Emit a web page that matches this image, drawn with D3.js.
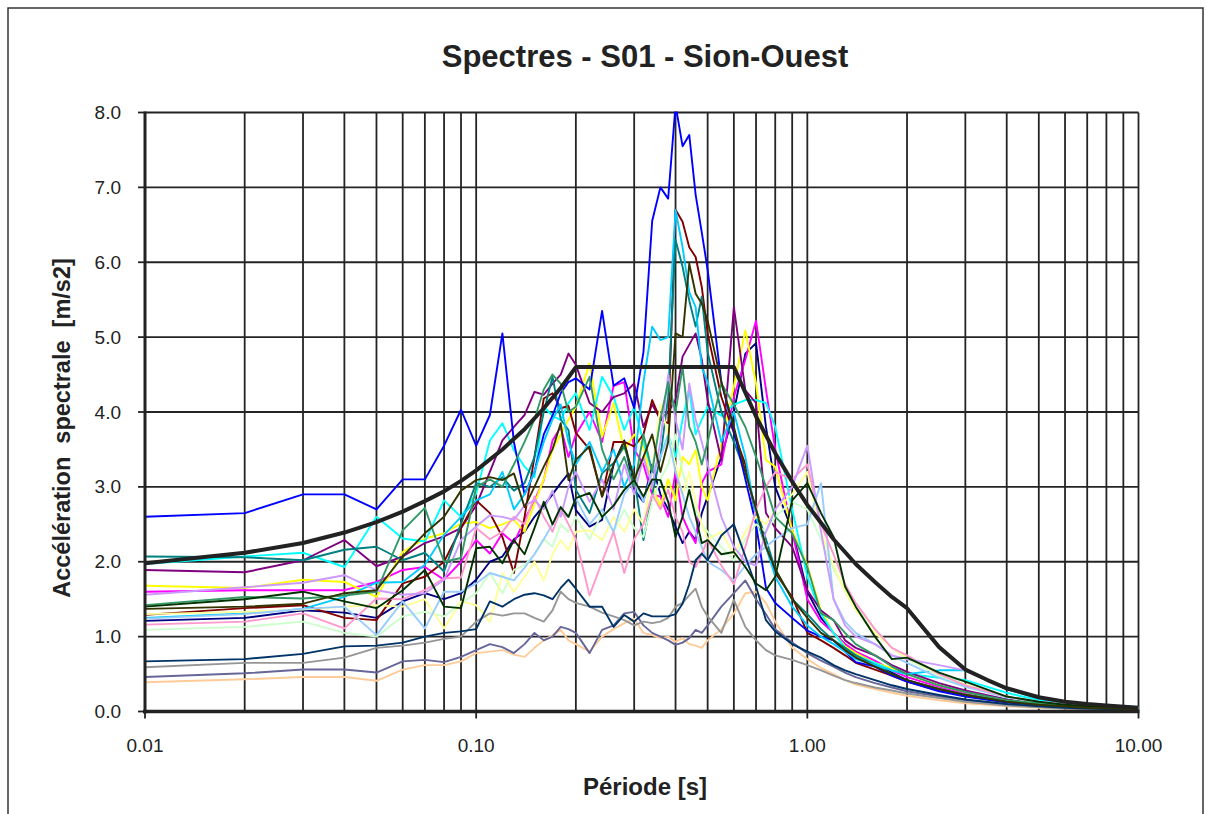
<!DOCTYPE html>
<html><head><meta charset="utf-8">
<script src="https://cdn.jsdelivr.net/npm/d3@7"></script>
<style>html,body{margin:0;padding:0;background:#fff;}svg{display:block;font-family:"Liberation Sans",Arial,sans-serif;}</style>
</head><body>
<svg id="chart" width="1206" height="814"></svg>
<script>
// ---- DATA ----
const title = "Spectres - S01 - Sion-Ouest";
const xTitle = "Période [s]";
const yTitle = "Accélération  spectrale  [m/s2]";
const xTickValues = [0.01, 0.1, 1, 10];
const xTickLabels = ["0.01", "0.10", "1.00", "10.00"];
const yTickValues = [0, 1, 2, 3, 4, 5, 6, 7, 8];
const yTickLabels = ["0.0", "1.0", "2.0", "3.0", "4.0", "5.0", "6.0", "7.0", "8.0"];

const periods = [0.01,0.02,0.03,0.04,0.05,0.06,0.07,0.08,0.09,0.10,
  0.11,0.12,0.13,0.14,0.15,0.16,0.17,0.18,0.19,0.20,
  0.22,0.24,0.26,0.28,0.30,0.32,0.34,0.36,0.38,0.40,
  0.42,0.44,0.46,0.48,0.50,0.55,0.60,0.65,0.70,0.75,
  0.80,0.90,1.00,1.10,1.20,1.30,1.40,1.60,1.80,2.00,
  2.50,3.00,4.00,5.00,6.00,7.00,8.50,10.0];

const sNavy = [1.21,1.25,1.35,1.32,1.25,1.47,1.58,1.50,1.58,1.76,
  2.00,2.07,2.30,2.40,2.60,2.75,2.90,3.05,3.18,2.69,
  2.47,2.56,3.30,3.62,2.96,2.80,3.30,2.90,2.70,2.47,
  2.25,2.40,2.29,2.65,2.87,3.40,4.00,4.78,4.92,3.80,
  3.00,2.42,1.60,1.25,1.05,0.90,0.78,0.65,0.52,0.42,
  0.29,0.21,0.13,0.09,0.07,0.05,0.04,0.03];
const sMagenta = [1.60,1.62,1.62,1.62,1.73,1.89,1.93,1.76,2.00,2.29,
  2.11,2.38,2.25,2.56,2.82,3.09,3.62,3.80,3.40,3.70,
  4.00,3.60,4.35,4.40,3.50,3.30,2.90,2.87,2.60,3.20,
  2.60,2.40,2.25,3.05,3.20,3.30,4.20,4.70,5.22,4.30,
  3.50,2.40,1.50,1.20,1.05,0.90,0.80,0.68,0.55,0.46,
  0.33,0.24,0.14,0.10,0.07,0.06,0.05,0.04];
const sYellow = [1.68,1.65,1.76,1.73,1.53,2.13,2.31,2.38,2.51,2.53,
  2.45,2.50,2.56,2.40,2.78,3.10,3.50,3.70,3.90,4.07,
  4.65,3.67,4.12,3.49,3.70,3.54,3.00,2.74,3.10,2.82,
  3.40,3.30,3.49,3.00,2.82,3.58,4.34,5.09,4.38,3.36,
  3.27,2.42,1.95,1.35,1.05,0.87,0.78,0.65,0.58,0.50,
  0.35,0.26,0.15,0.11,0.08,0.06,0.05,0.04];
const sAqua = [1.97,2.07,2.12,1.93,2.60,2.31,2.27,2.82,2.60,2.91,
  3.62,3.85,3.49,3.27,3.13,4.07,3.95,3.89,4.12,4.25,
  3.76,4.47,4.20,3.76,4.07,3.60,3.20,3.40,3.70,3.40,
  3.90,4.30,3.70,3.90,4.07,3.95,4.10,4.16,4.16,4.12,
  3.80,2.70,1.80,1.30,1.05,0.85,0.75,0.65,0.55,0.50,
  0.45,0.42,0.25,0.15,0.11,0.09,0.07,0.06];
const sPurple = [1.89,1.86,2.02,2.29,1.94,2.07,2.25,2.34,2.45,2.75,
  3.20,3.62,3.80,3.96,4.27,4.23,4.38,4.50,4.78,4.63,
  4.12,4.00,4.20,4.25,4.38,3.80,4.10,3.90,4.00,4.16,
  4.74,4.90,5.05,4.70,4.16,3.36,5.40,4.29,4.12,2.65,
  2.45,2.20,1.62,1.35,1.22,0.95,0.85,0.75,0.62,0.53,
  0.38,0.28,0.16,0.11,0.08,0.06,0.05,0.04];
const sMaroon = [1.29,1.38,1.42,1.25,1.22,1.71,1.80,2.00,2.45,2.82,
  2.65,2.33,1.85,2.60,3.40,4.18,4.25,4.05,4.08,3.72,
  3.50,2.87,3.60,3.60,3.54,3.70,4.16,3.90,3.85,6.70,
  6.54,6.20,6.07,5.67,5.05,4.20,3.72,3.30,2.60,2.20,
  1.85,1.53,1.05,0.95,0.85,0.75,0.65,0.56,0.48,0.40,
  0.28,0.22,0.13,0.09,0.07,0.05,0.04,0.03];
const sTeal = [2.07,2.06,2.02,2.16,2.20,2.02,2.12,1.87,2.51,3.05,
  3.00,3.13,2.95,3.05,3.40,4.00,4.47,3.90,3.76,2.96,
  2.65,3.18,3.32,3.54,3.13,2.29,2.90,3.40,4.20,6.30,
  5.94,5.49,5.14,5.54,4.80,4.00,3.60,3.20,2.70,2.30,
  1.90,1.50,1.30,1.10,0.95,0.85,0.75,0.62,0.50,0.42,
  0.30,0.22,0.14,0.10,0.08,0.06,0.05,0.04];
const sBlue = [2.60,2.65,2.90,2.90,2.70,3.10,3.10,3.55,4.03,3.55,
  3.96,5.05,3.60,2.90,3.20,3.70,3.95,4.25,4.40,4.45,
  4.30,5.35,4.35,4.45,4.05,4.80,6.55,7.00,6.85,8.10,
  7.55,7.70,6.90,6.40,5.90,4.40,3.75,3.10,2.50,1.65,
  1.45,1.25,1.08,1.00,0.95,0.80,0.66,0.60,0.48,0.40,
  0.27,0.20,0.12,0.09,0.07,0.06,0.05,0.04];
const sSkyBlue = [1.25,1.31,1.37,1.53,1.72,1.73,1.96,2.36,2.60,2.82,
  2.90,3.20,2.70,2.90,3.20,3.60,3.90,4.10,3.60,3.30,
  3.60,3.20,3.50,3.00,3.30,4.40,5.14,4.96,5.00,6.70,
  6.20,5.60,5.40,4.60,4.40,3.60,4.00,3.40,2.60,2.20,
  1.80,1.40,1.15,1.00,0.90,0.80,0.70,0.62,0.55,0.50,
  0.55,0.55,0.30,0.17,0.12,0.09,0.07,0.05];
const sLightGreen = [1.09,1.13,1.20,1.05,1.00,1.27,1.33,1.27,1.45,1.58,
  1.85,1.58,1.89,1.95,2.10,2.30,2.20,2.50,2.40,2.60,
  2.30,2.65,2.40,2.70,2.45,2.33,2.80,3.10,3.30,3.70,
  3.20,2.90,2.70,2.50,2.40,2.20,2.02,2.30,2.50,2.40,
  2.60,2.80,2.70,2.30,1.90,1.62,1.40,1.10,0.85,0.70,
  0.48,0.34,0.19,0.12,0.09,0.07,0.05,0.04];
const sLightYellow = [1.30,1.33,1.36,1.40,1.42,1.40,1.50,1.11,1.47,1.42,
  1.20,1.85,1.60,1.80,2.00,1.75,2.10,2.29,2.15,2.40,
  2.42,2.29,2.60,2.40,2.70,2.50,3.20,4.10,3.70,3.30,
  2.90,3.20,2.80,2.50,2.30,2.40,2.10,2.40,2.60,2.50,
  2.70,2.90,3.20,2.40,1.95,1.60,1.35,1.05,0.85,0.72,
  0.50,0.36,0.20,0.13,0.09,0.07,0.05,0.04];
const sPaleBlue = [1.24,1.30,1.37,1.40,1.02,1.47,1.11,1.60,1.60,1.71,
  1.85,1.80,1.75,1.92,2.10,2.30,2.50,2.65,2.60,2.85,
  2.50,2.70,2.40,2.90,3.10,2.80,3.20,3.40,3.67,3.20,
  2.90,2.60,2.40,2.20,2.00,1.89,1.75,1.95,2.10,2.20,
  2.30,2.45,2.50,3.05,1.50,1.20,1.05,0.90,0.75,0.65,
  0.45,0.33,0.19,0.13,0.09,0.07,0.05,0.04];
const sRose = [1.16,1.20,1.31,1.11,1.51,1.50,1.62,1.78,1.79,2.45,
  2.30,2.40,2.60,2.50,2.87,2.60,2.40,2.70,2.50,2.30,
  1.55,2.00,2.40,1.85,2.30,2.50,2.90,2.70,2.96,2.60,
  2.40,2.00,1.93,2.10,2.30,1.95,1.70,2.20,2.70,3.00,
  3.20,3.10,3.30,2.50,2.10,1.70,1.45,1.10,0.85,0.75,
  0.50,0.35,0.20,0.13,0.09,0.07,0.05,0.04];
const sLavender = [1.56,1.66,1.72,1.82,1.62,1.56,1.58,1.76,2.29,2.47,
  2.62,2.60,2.56,2.75,2.82,2.70,2.95,2.60,3.00,3.20,
  2.80,3.10,2.70,3.30,2.90,3.40,3.00,3.60,4.50,3.90,
  3.50,4.38,3.90,3.60,3.30,2.60,2.20,2.00,1.95,2.40,
  2.70,3.00,3.55,2.40,1.50,1.15,1.00,0.90,0.75,0.70,
  0.62,0.55,0.30,0.18,0.12,0.09,0.07,0.05];
const sTan = [0.39,0.43,0.46,0.46,0.41,0.56,0.62,0.62,0.67,0.78,
  0.80,0.82,0.76,0.73,0.85,0.95,1.02,1.09,0.95,0.90,
  0.80,1.00,1.10,1.18,1.24,1.05,1.02,0.98,1.00,0.93,
  0.98,0.90,0.88,0.85,0.95,1.10,1.31,1.58,1.60,1.45,
  1.20,0.85,0.70,0.58,0.50,0.42,0.36,0.30,0.25,0.21,
  0.15,0.11,0.07,0.05,0.04,0.03,0.02,0.02];
const sBlueGray = [0.46,0.51,0.56,0.56,0.52,0.67,0.69,0.66,0.73,0.82,
  0.90,0.86,0.78,0.90,1.05,0.95,1.00,1.13,1.10,1.05,
  0.78,1.09,1.15,1.31,1.33,1.15,1.05,1.00,0.95,0.89,
  0.92,0.98,1.09,1.05,1.15,1.40,1.58,1.75,1.50,1.30,
  1.10,0.92,0.78,0.68,0.60,0.52,0.46,0.38,0.32,0.27,
  0.20,0.15,0.09,0.06,0.05,0.04,0.03,0.02];
const sGray = [0.59,0.65,0.65,0.72,0.85,0.88,0.92,0.97,1.00,1.20,
  1.31,1.28,1.31,1.31,1.25,1.20,1.35,1.60,1.50,1.45,
  1.40,1.32,1.27,1.22,1.15,1.20,1.18,1.20,1.25,1.40,
  1.45,1.55,1.64,1.40,1.27,1.05,1.49,1.13,0.95,0.82,
  0.75,0.69,0.62,0.55,0.48,0.42,0.38,0.32,0.28,0.24,
  0.18,0.13,0.08,0.06,0.04,0.03,0.03,0.02];
const sDarkTeal = [0.67,0.70,0.77,0.87,0.88,0.92,1.00,1.05,1.07,1.10,
  1.47,1.40,1.50,1.56,1.58,1.55,1.50,1.65,1.76,1.64,
  1.40,1.40,1.13,1.29,1.20,1.31,1.27,1.27,1.27,1.30,
  1.44,1.70,2.02,2.11,2.02,2.35,2.50,2.07,1.67,1.22,
  1.07,0.90,0.80,0.72,0.62,0.55,0.50,0.42,0.35,0.30,
  0.22,0.16,0.10,0.07,0.05,0.04,0.03,0.02];
const sSeaGreen = [1.42,1.53,1.51,1.55,1.60,2.42,2.72,2.00,2.05,3.00,
  3.10,3.00,3.30,3.60,3.90,4.30,4.50,4.38,4.00,4.07,
  4.47,3.50,3.10,3.40,3.00,3.70,3.20,3.90,4.40,4.00,
  4.60,3.80,3.60,3.30,3.60,4.38,4.10,3.80,3.40,3.00,
  2.60,2.38,1.93,1.31,1.22,1.05,0.90,0.75,0.60,0.50,
  0.35,0.26,0.15,0.11,0.08,0.06,0.05,0.04];
const sDarkGreen = [1.40,1.50,1.60,1.47,1.38,1.62,1.89,1.40,1.38,2.18,
  2.20,1.98,2.29,2.10,2.45,2.80,2.50,2.73,2.60,2.85,
  2.92,2.60,2.75,2.96,3.09,2.87,3.10,3.09,2.80,2.33,
  2.60,2.96,2.60,2.25,2.29,2.10,2.13,1.93,1.71,1.62,
  1.80,2.82,3.05,2.65,2.33,1.67,1.40,1.00,0.70,0.72,
  0.52,0.40,0.20,0.13,0.09,0.07,0.05,0.04];
const sOlive = [1.37,1.40,1.44,1.58,1.62,2.07,2.38,2.60,2.95,3.09,
  3.13,3.09,3.18,2.73,3.00,3.27,3.50,3.85,3.09,3.36,
  3.54,2.87,3.30,3.60,3.10,3.40,3.70,3.20,3.60,5.05,
  5.00,5.98,5.58,5.45,5.22,4.40,3.80,3.20,2.70,2.20,
  1.90,1.50,1.25,1.05,0.95,0.82,0.72,0.60,0.50,0.42,
  0.30,0.22,0.13,0.09,0.07,0.05,0.04,0.03];

const designPeriods = [0.01,0.02,0.03,0.04,0.05,0.06,0.07,0.08,0.09,0.10,0.12,0.14,0.16,0.18,0.20,
  0.60,0.70,0.80,0.90,1.00,1.20,1.40,1.60,1.80,2.00,2.50,3.00,3.50,4.00,5.00,6.00,7.00,8.00,10.0];
const designValues = [1.98,2.12,2.25,2.39,2.53,2.67,2.81,2.94,3.08,3.22,3.50,3.77,4.05,4.32,4.60,
  4.60,3.94,3.45,3.07,2.76,2.30,1.97,1.73,1.53,1.38,0.86,0.56,0.42,0.31,0.19,0.13,0.10,0.08,0.05];

const seriesList = [sNavy, sMagenta, sYellow, sAqua, sPurple, sMaroon, sTeal, sBlue, sSkyBlue,
  sLightGreen, sLightYellow, sPaleBlue, sRose, sLavender, sTan, sBlueGray, sGray, sDarkTeal,
  sSeaGreen, sDarkGreen, sOlive];
const seriesColors = ["#000080","#FF00FF","#FFFF00","#00FFFF","#800080","#800000","#008080","#0000FF","#00CCFF",
  "#CCFFCC","#FFFF99","#99CCFF","#FF99CC","#CC99FF","#FFCC99","#666699","#969696","#003366",
  "#339966","#003300","#333300"];

// ---- CHART ----
const svg = d3.select("#chart");
const L = 145, R = 1138.5, T = 112.5, B = 711.5;
const x = d3.scaleLog().domain([0.01, 10]).range([L, R]);
const y = d3.scaleLinear().domain([0, 8]).range([B, T]);

// outer frame
svg.append("rect").attr("x", 8).attr("y", 8).attr("width", 1195).attr("height", 820)
  .attr("fill", "none").attr("stroke", "#333").attr("stroke-width", 1.5);

// grid
const gridColor = "#242424";
const xGrid = [];
for (let e = -2; e <= 0; e++) for (let k = 1; k <= 9; k++) xGrid.push(k * Math.pow(10, e));
xGrid.push(10);
svg.append("g").selectAll("line").data(xGrid).join("line")
  .attr("x1", d => x(d)).attr("x2", d => x(d)).attr("y1", T).attr("y2", B)
  .attr("stroke", gridColor).attr("stroke-width", 1.8);
svg.append("g").selectAll("line").data(yTickValues).join("line")
  .attr("x1", L).attr("x2", R).attr("y1", d => y(d)).attr("y2", d => y(d))
  .attr("stroke", gridColor).attr("stroke-width", 1.8);

// clip
svg.append("clipPath").attr("id", "clip").append("rect")
  .attr("x", L).attr("y", T - 1).attr("width", R - L).attr("height", B - T + 1);

const line = d3.line().x(d => x(d[0])).y(d => y(d[1]));
const g = svg.append("g").attr("clip-path", "url(#clip)");
seriesList.forEach((vals, i) => {
  g.append("path").datum(periods.map((p, j) => [p, vals[j]]))
    .attr("d", line).attr("fill", "none")
    .attr("stroke", seriesColors[i]).attr("stroke-width", 1.9).attr("stroke-linejoin", "round");
});
g.append("path").datum(designPeriods.map((p, j) => [p, designValues[j]]))
  .attr("d", line).attr("fill", "none").attr("stroke", "#222").attr("stroke-width", 4)
  .attr("stroke-linejoin", "round");

// axes lines
svg.append("line").attr("x1", L).attr("x2", L).attr("y1", T - 1).attr("y2", B + 2)
  .attr("stroke", "#222").attr("stroke-width", 3);
svg.append("line").attr("x1", L - 2).attr("x2", R + 1).attr("y1", B).attr("y2", B)
  .attr("stroke", "#222").attr("stroke-width", 3.5);

// y ticks
svg.append("g").selectAll("line").data(yTickValues).join("line")
  .attr("x1", L - 7).attr("x2", L).attr("y1", d => y(d)).attr("y2", d => y(d))
  .attr("stroke", "#222").attr("stroke-width", 1.8);
svg.append("g").selectAll("text").data(yTickValues).join("text")
  .attr("x", 121).attr("y", d => y(d) + 6.5).attr("text-anchor", "end")
  .attr("font-size", 19).attr("fill", "#222").text((d, i) => yTickLabels[i]);
// x ticks
svg.append("g").selectAll("line").data(xTickValues).join("line")
  .attr("x1", d => x(d)).attr("x2", d => x(d)).attr("y1", B).attr("y2", B + 7)
  .attr("stroke", "#222").attr("stroke-width", 1.8);
svg.append("g").selectAll("text").data(xTickValues).join("text")
  .attr("x", d => x(d)).attr("y", 752).attr("text-anchor", "middle")
  .attr("font-size", 19).attr("fill", "#222").text((d, i) => xTickLabels[i]);

// titles
svg.append("text").attr("x", 645).attr("y", 67).attr("text-anchor", "middle")
  .attr("font-size", 31).attr("font-weight", "bold").attr("fill", "#222").text(title);
svg.append("text").attr("x", 645).attr("y", 795).attr("text-anchor", "middle")
  .attr("font-size", 24).attr("font-weight", "bold").attr("fill", "#222").text(xTitle);
svg.append("text").attr("transform", "translate(70,428) rotate(-90)").attr("text-anchor", "middle")
  .attr("font-size", 23.5).attr("font-weight", "bold").attr("fill", "#222").style("white-space", "pre").text(yTitle);
</script>
</body></html>
